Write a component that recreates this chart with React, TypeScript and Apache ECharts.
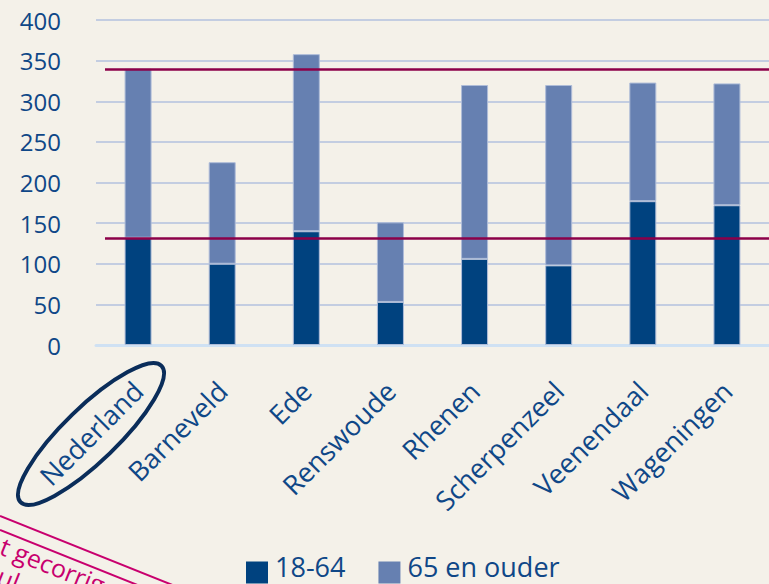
import React, { useEffect, useRef } from "react";
import * as echarts from "echarts";

const categories = ["Nederland", "Barneveld", "Ede", "Renswoude", "Rhenen", "Scherpenzeel", "Veenendaal", "Wageningen"];
const age1864 = [132, 100, 140, 53, 106, 98, 177, 172];
const age65plus = [208, 125, 218, 98, 214, 222, 146, 150];
const refLines = [340, 132];
const yTicks = { min: 0, max: 400, interval: 50 };
const seriesNames = ["18-64", "65 en ouder"];
const stampTexts = ["t gecorrig", "ul"];

const BG = "#f4f1e9";
const DARK = "#00427f";
const LIGHT = "#6680b1";
const TEXT = "#0f4787";
const RED = "#8c0049";
const PINK = "#c8006e";

export default function App() {
  const ref = useRef<HTMLDivElement>(null);
  useEffect(() => {
    if (!ref.current) return;
    const chart = echarts.init(ref.current, null, { renderer: "svg" });
    const barStyle = (color: string) => ({ color, borderColor: "#aebcd8", borderWidth: 1 });
    chart.setOption({
      animation: false,
      backgroundColor: BG,
      textStyle: { fontFamily: "Open Sans" },
      grid: { left: 96, right: -3, top: 20, bottom: 239, containLabel: false },
      legend: {
        left: 246,
        bottom: -8,
        padding: 0,
        itemWidth: 22,
        itemHeight: 22,
        itemGap: 33,
        icon: "rect",
        itemStyle: { borderWidth: 0 },
        formatter: "{a|{name}}",
        textStyle: {
          color: TEXT,
          fontSize: 27,
          fontFamily: "Open Sans",
          rich: {
            a: { color: TEXT, fontSize: 27, fontFamily: "Open Sans", lineHeight: 22, padding: [0, 0, 12, 2] },
          },
        },
        data: seriesNames,
      },
      xAxis: {
        type: "category",
        data: categories,
        axisTick: { show: false },
        axisLine: { lineStyle: { color: "#cfe1f3", width: 3 } },
        axisLabel: { rotate: 45, margin: 41, color: TEXT, fontSize: 27, fontFamily: "Open Sans", interval: 0 },
      },
      yAxis: {
        type: "value",
        min: yTicks.min,
        max: yTicks.max,
        interval: yTicks.interval,
        axisLine: { show: false },
        axisTick: { show: false },
        axisLabel: { margin: 35, color: TEXT, fontSize: 24, fontFamily: "Open Sans" },
        splitLine: { lineStyle: { color: "#c3cde1", width: 2 } },
      },
      series: [
        {
          name: seriesNames[0],
          type: "bar",
          stack: "total",
          barWidth: 27,
          data: age1864,
          itemStyle: barStyle(DARK),
        },
        {
          name: seriesNames[1],
          type: "bar",
          stack: "total",
          barWidth: 27,
          data: age65plus,
          itemStyle: barStyle(LIGHT),
          markLine: {
            silent: true,
            symbol: ["none", "none"],
            label: { show: false },
            lineStyle: { color: RED, width: 2.5, type: "solid" },
            data: refLines.map((v) => [
              { x: 105, yAxis: v },
              { x: 769, yAxis: v },
            ]),
          },
        },
      ],
      graphic: [
        {
          type: "ellipse",
          x: 91,
          y: 434,
          rotation: (44 * Math.PI) / 180,
          shape: { cx: 0, cy: 0, rx: 98, ry: 27 },
          style: { fill: "none", stroke: "#0a2d5a", lineWidth: 4 },
          z: 100,
        },
        {
          type: "line",
          shape: { x1: 0, y1: 516, x2: 175, y2: 586 },
          style: { stroke: PINK, lineWidth: 2 },
        },
        {
          type: "line",
          shape: { x1: 0, y1: 530, x2: 140, y2: 586 },
          style: { stroke: PINK, lineWidth: 2 },
        },
        {
          type: "text",
          x: -3,
          y: 556,
          rotation: -Math.atan(0.4),
          style: { text: stampTexts[0], fill: PINK, fontSize: 25, fontFamily: "Open Sans", textVerticalAlign: "bottom" },
        },
        {
          type: "text",
          x: -6,
          y: 586,
          rotation: -Math.atan(0.4),
          style: { text: stampTexts[1], fill: PINK, fontSize: 25, fontFamily: "Open Sans", textVerticalAlign: "bottom" },
        },
      ],
    });
    return () => chart.dispose();
  }, []);
  return (
    <div
      ref={ref}
      style={{ position: "fixed", left: 0, top: 0, width: 769, height: 584, background: BG }}
    />
  );
}
